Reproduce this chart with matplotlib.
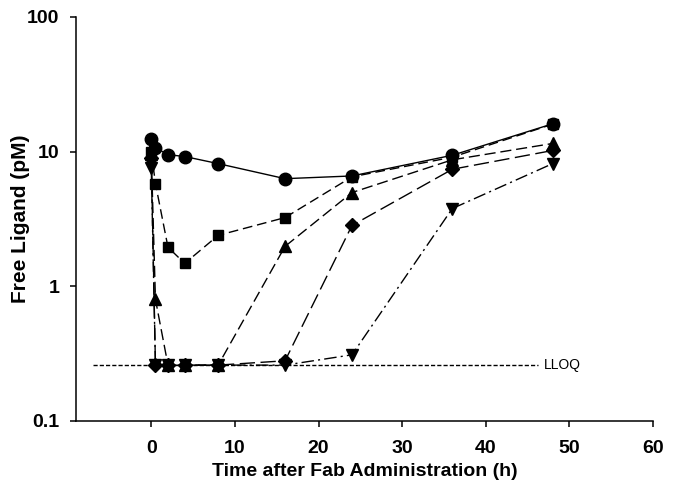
import numpy as np
import matplotlib
matplotlib.use("Agg")
import matplotlib.pyplot as plt

plt.rcParams['font.family'] = ['Liberation Sans', 'DejaVu Sans']

# sampling times (h)
times = [0, 0.5, 2, 4, 8, 16, 24, 36, 48]

# free ligand (pM), one list per dose group
circle_vals = [12.5, 10.7, 9.5, 9.2, 8.15, 6.3, 6.6, 9.4, 16.1]
square_vals = [10.0, 5.8, 1.95, 1.48, 2.39, 3.24, 6.5, 9.1, 16.0]
triangle_vals = [9.6, 0.8, 0.26, 0.26, 0.26, 1.98, 4.97, 8.7, 11.5]
diamond_vals = [9.0, 0.26, 0.26, 0.26, 0.26, 0.28, 2.83, 7.4, 10.2]
invtri_vals = [7.6, 0.26, 0.26, 0.26, 0.26, 0.26, 0.31, 3.78, 8.15]

lloq = 0.26
lloq_span = [-7, 46.2]

x_ticks = [0, 10, 20, 30, 40, 50, 60]
y_ticks = [0.1, 1, 10, 100]
y_ticklabels = ['0.1', '1', '10', '100']

fig = plt.figure(figsize=(6.75, 4.95), dpi=100)
ax = fig.add_axes([0.1126, 0.1495, 0.8548, 0.8162])

ax.plot(lloq_span, [lloq, lloq], color='black', lw=1.0, linestyle=(0, (3, 1.5)))
ax.text(lloq_span[1] + 0.8, lloq, 'LLOQ', fontsize=10, va='center', ha='left')

ax.plot(times, circle_vals, color='black', lw=1.0, marker='o', ms=9, zorder=5)
ax.plot(times, square_vals, color='black', lw=1.0, marker='s', ms=7.5,
        linestyle=(0, (7, 3.5)), zorder=4)
ax.plot(times, triangle_vals, color='black', lw=1.0, marker='^', ms=8.5,
        linestyle=(0, (8, 3.5)), zorder=4)
ax.plot(times, diamond_vals, color='black', lw=1.0, marker='D', ms=7,
        linestyle=(0, (11, 4)), zorder=4)
ax.plot(times, invtri_vals, color='black', lw=1.0, marker='v', ms=8.5,
        linestyle=(0, (9, 3, 1.5, 3)), zorder=4)

ax.set_yscale('log')
ax.set_xlim(-9, 60)
ax.set_ylim(0.1, 100)
ax.set_xticks(x_ticks)
ax.set_yticks(y_ticks)
ax.set_yticklabels(y_ticklabels)
ax.yaxis.set_minor_locator(matplotlib.ticker.NullLocator())

for s in ['top', 'right']:
    ax.spines[s].set_visible(False)
for s in ['left', 'bottom']:
    ax.spines[s].set_linewidth(1.1)

ax.tick_params(direction='out', length=4, width=1.1, labelsize=14)
ax.tick_params(axis='y', pad=8)
ax.tick_params(axis='x', pad=10)
for lab in ax.get_xticklabels() + ax.get_yticklabels():
    lab.set_fontweight('bold')

ax.set_xlabel('Time after Fab Administration (h)', fontsize=14, fontweight='bold', labelpad=4)
ax.set_ylabel('Free Ligand (pM)', fontsize=15, fontweight='bold', labelpad=-2)

fig.savefig('out.png', dpi=100)
